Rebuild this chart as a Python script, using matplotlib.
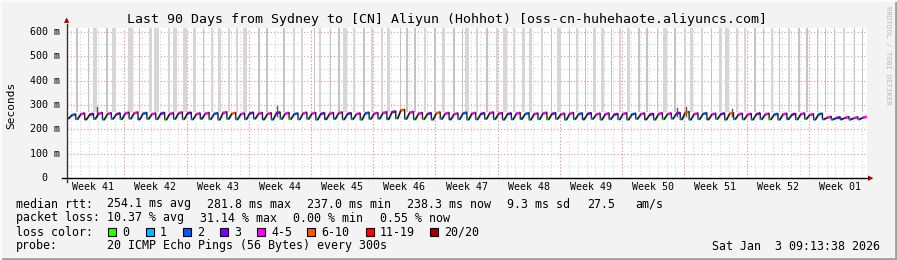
import matplotlib
matplotlib.use('Agg')
import matplotlib.pyplot as plt
from matplotlib.patches import Rectangle
from matplotlib.lines import Line2D

# ---- data ----
title = 'Last 90 Days from Sydney to [CN] Aliyun (Hohhot) [oss-cn-huhehaote.aliyuncs.com]'
y_ticks = [0, 100, 200, 300, 400, 500, 600]
y_tick_labels = ['0  ', '100 m', '200 m', '300 m', '400 m', '500 m', '600 m']
week_labels = ['Week 41', 'Week 42', 'Week 43', 'Week 44', 'Week 45', 'Week 46', 'Week 47',
               'Week 48', 'Week 49', 'Week 50', 'Week 51', 'Week 52', 'Week 01']
first_week_start = 6.45   # day offset of the first Monday line

loss_names = ['0', '1', '2', '3', '4-5', '6-10', '11-19', '20/20']
loss_colors = ['#26ff00', '#00b8ff', '#0059ff', '#7e00ff', '#ff00ff', '#ff5500', '#ff0000', '#a10000']

# median rtt per day (ms): trough and peak of the daily saw tooth
day_low = [245, 242, 241, 243, 240, 243, 242, 244, 241, 243,
           242, 240, 243, 242, 241, 244, 242, 240, 243, 241,
           242, 244, 241, 240, 243, 242, 241, 243, 240, 242,
           243, 241, 242, 240, 243, 244, 242, 245, 243, 241,
           242, 240, 243, 241, 242, 240, 241, 243, 242, 240,
           241, 243, 240, 242, 241, 243, 240, 242, 241, 243,
           240, 242, 241, 240, 243, 241, 240, 242, 244, 241,
           240, 242, 241, 243, 240, 242, 241, 240, 242, 241,
           240, 242, 241, 243, 240, 241, 240, 241, 240, 241]
day_high = [262, 266, 264, 268, 267, 266, 269, 270, 268, 266,
            268, 267, 270, 269, 266, 268, 267, 271, 268, 266,
            269, 268, 267, 270, 268, 266, 269, 268, 267, 268,
            270, 267, 266, 269, 268, 271, 274, 281, 272, 268,
            267, 270, 268, 266, 269, 268, 267, 270, 268, 266,
            268, 267, 266, 269, 267, 265, 268, 266, 267, 265,
            266, 264, 267, 265, 266, 264, 267, 266, 268, 272,
            266, 267, 265, 266, 268, 265, 264, 266, 265, 264,
            265, 264, 266, 263, 265, 252, 250, 251, 250, 252]
# loss class index (into loss_names) at trough and at peak
low_loss = [1, 1, 2, 1, 1, 1, 1, 1, 2, 1,
            1, 0, 1, 1, 1, 2, 1, 1, 1, 1,
            1, 1, 2, 1, 1, 0, 1, 1, 1, 2,
            1, 1, 1, 1, 1, 1, 2, 1, 1, 1,
            0, 1, 1, 2, 1, 1, 1, 1, 1, 1,
            1, 2, 1, 1, 0, 1, 1, 1, 2, 1,
            1, 1, 1, 1, 1, 2, 1, 0, 1, 1,
            1, 1, 2, 1, 1, 1, 1, 1, 1, 0,
            1, 2, 1, 1, 1, 1, 1, 2, 1, 1]
high_loss = [2, 4, 3, 4, 4, 3, 4, 4, 2, 4,
             3, 4, 4, 3, 4, 4, 2, 4, 5, 4,
             3, 4, 4, 3, 4, 2, 4, 4, 3, 4,
             4, 3, 4, 2, 4, 4, 3, 5, 4, 4,
             3, 5, 4, 4, 2, 4, 3, 4, 4, 3,
             4, 2, 4, 4, 3, 4, 4, 2, 3, 4,
             4, 3, 4, 2, 4, 3, 4, 4, 3, 5,
             4, 2, 4, 3, 5, 4, 4, 3, 4, 2,
             4, 3, 4, 4, 2, 4, 3, 4, 4, 4]

# tall smoke (high ping outliers), day offset and width in days
smoke_day = [1.12, 2.47, 3.15, 4.5, 5.3, 7.1, 8.2, 9.35, 10.1, 11.5,
             12.15, 13.3, 14.3, 15.4, 16.3, 17.2, 18.2, 19.1, 20.0, 21.6,
             22.5, 24.4, 25.5, 26.4, 27.8, 28.5, 29.6, 30.6, 31.3, 32.3,
             33.4, 34.3, 35.4, 36.2, 37.5, 38.25, 39.15, 40.3, 41.4, 42.4,
             43.55, 44.45, 45.0, 46.1, 47.25, 48.4, 49.3, 50.3, 51.4, 52.1,
             53.45, 54.55, 55.35, 56.5, 57.4, 58.3, 59.3, 60.2, 61.3, 62.2,
             63.2, 64.35, 65.25, 66.4, 67.3, 68.4, 69.5, 70.3, 71.4, 72.55,
             73.5, 74.25, 75.4, 76.3, 77.4, 78.4, 79.3, 80.2, 81.2, 82.35,
             83.25, 84.4, 85.3, 86.3, 87.4, 88.55, 89.45]
smoke_width = [0.15, 0.1, 0.35, 0.1, 0.45, 0.55, 0.1, 0.35, 0.55, 0.25,
               0.35, 0.45, 0.35, 0.1, 0.25, 0.35, 0.25, 0.25, 0.45, 0.1,
               0.1, 0.15, 0.25, 0.25, 0.1, 0.25, 0.1, 0.1, 0.45, 0.25,
               0.15, 0.25, 0.25, 0.35, 0.1, 0.1, 0.1, 0.25, 0.1, 0.35,
               0.15, 0.1, 0.35, 0.25, 0.1, 0.25, 0.45, 0.25, 0.35, 0.35,
               0.25, 0.1, 0.35, 0.1, 0.25, 0.1, 0.35, 0.35, 0.1, 0.25,
               0.35, 0.1, 0.1, 0.1, 0.45, 0.1, 0.25, 0.35, 0.25, 0.1,
               0.35, 0.35, 0.25, 0.25, 0.1, 0.1, 0.25, 0.1, 0.25, 0.1,
               0.1, 0.1, 0.1, 0.1, 0.25, 0.1, 0.1]
# short dark smoke spikes near the median
spike_day = [3.4, 23.6, 68.6, 69.6, 74.8]
spike_top = [292, 297, 287, 292, 285]

stats_rtt = [('median rtt:', 16), ('254.1 ms avg', 107), ('281.8 ms max', 207),
             ('237.0 ms min', 307), ('238.3 ms now', 407), ('9.3 ms sd', 507),
             ('27.5', 587), ('am/s', 635)]
stats_loss = [('packet loss:', 16), ('10.37 % avg', 107), ('31.14 % max', 200),
              ('0.00 % min', 293), ('0.55 % now', 380)]
probe_text = '20 ICMP Echo Pings (56 Bytes) every 300s'
date_text = 'Sat Jan  3 09:13:38 2026'

# ---- figure ----
W, H = 897, 260
plt.rcParams['font.family'] = 'DejaVu Sans Mono'
fig = plt.figure(figsize=(W / 100, H / 100), dpi=100, facecolor='#f3f3f3')

def fx(x):
    return x / W

def fy(y):
    return 1 - y / H

ax_left, ax_right, ax_top, ax_bottom = 67, 867, 28, 178
ax = fig.add_axes([fx(ax_left), fy(ax_bottom), (ax_right - ax_left) / W, (ax_bottom - ax_top) / H])
ax.set_facecolor('white')
ymax = 600 * (ax_bottom - ax_top) / (ax_bottom - 32)
ax.set_xlim(0, 90)
ax.set_ylim(0, ymax)
for s in ax.spines.values():
    s.set_visible(False)
ax.set_xticks([])
ax.set_yticks([])

# grid
dot = (0, (1, 2))
d = first_week_start % 1
while d < 90:
    ax.axvline(d, color='#d2d2d2', lw=0.8, ls=dot, zorder=1)
    d += 1
for v in range(50, 620, 100):
    ax.axhline(v, color='#d2d2d2', lw=0.8, ls=dot, zorder=1)
for v in y_ticks[1:]:
    ax.axhline(v, color='#f09090', lw=0.8, ls=dot, zorder=1.2)
week_lines = [first_week_start + 7 * k for k in range(12)]
for w in week_lines:
    ax.axvline(w, color='#f09090', lw=0.8, ls=dot, zorder=1.2)

# smoke
for sd, sw in zip(smoke_day, smoke_width):
    c = '#c4c4c4' if sw <= 0.15 else '#d6d6d6'
    ax.bar(sd, ymax + 10 - 272, bottom=272, width=max(sw, 0.12), color=c, lw=0, zorder=2)
for sd, st in zip(spike_day, spike_top):
    ax.plot([sd, sd], [255, st], color='#555555', lw=1, zorder=3)

# median rtt saw tooth coloured by loss
n = len(day_low)
for i in range(n):
    lo, hi = day_low[i], day_high[i]
    ax.plot([i, i + 0.22], [lo, lo + 1], color=loss_colors[low_loss[i]], lw=1.8,
            solid_capstyle='butt', zorder=4)
    ax.plot([i + 0.22, i + 0.55], [lo + 1, hi - 4], color='#222222', lw=1.3, zorder=4)
    ax.plot([i + 0.55, i + 0.98], [hi - 4, hi], color=loss_colors[high_loss[i]], lw=1.9,
            solid_capstyle='butt', zorder=4)
    if i + 1 < n:
        ax.plot([i + 0.98, i + 1], [hi, day_low[i + 1]], color='#222222',
                lw=1.0, zorder=4)

# axes lines with arrows
fig.add_artist(Line2D([fx(62), fx(868)], [fy(178), fy(178)], color='black', lw=1))
fig.add_artist(Line2D([fx(67), fx(67)], [fy(182), fy(24)], color='#333333', lw=1))
fig.text(fx(67), fy(20), '\u25b2', color='#a00000', fontsize=5, ha='center', va='center',
         family='DejaVu Sans')
fig.text(fx(871), fy(178), '\u25b6', color='#a00000', fontsize=5, ha='center', va='center',
         family='DejaVu Sans')

# y tick labels
for v, lab in zip(y_ticks, y_tick_labels):
    y = ax_bottom - v * (ax_bottom - 32) / 600
    fig.text(fx(60), fy(y), lab, fontsize=7.2, ha='right', va='center', color='black')
fig.text(fx(11), fy(105), 'Seconds', fontsize=8, rotation=90, ha='center', va='center')

# week labels
for k, lab in enumerate(week_labels):
    mid = first_week_start - 3.5 + 7 * k
    x = ax_left + mid * (ax_right - ax_left) / 90
    fig.text(fx(x), fy(187), lab, fontsize=7.2, ha='center', va='center')

# title and watermark
fig.text(fx(447), fy(19), title, fontsize=9.5, ha='center', va='center')
fig.text(fx(888), fy(55), 'RRDTOOL / TOBI OETIKER', fontsize=5.4, rotation=270,
         ha='center', va='center', color='#b8b8b8')

# legend
for txt, x in stats_rtt:
    fig.text(fx(x), fy(204), txt, fontsize=8.4, ha='left', va='center')
for txt, x in stats_loss:
    fig.text(fx(x), fy(218), txt, fontsize=8.4, ha='left', va='center')
fig.text(fx(16), fy(232), 'loss color:', fontsize=8.4, ha='left', va='center')
swatch_x = [108, 146, 183, 220, 257, 307, 366, 430]
for name, col, sx in zip(loss_names, loss_colors, swatch_x):
    fig.add_artist(Rectangle((fx(sx), fy(236)), 8 / W, 8 / H, facecolor=col,
                             edgecolor='black', lw=0.8))
    fig.text(fx(sx + 14), fy(232), name, fontsize=8.4, ha='left', va='center')
fig.text(fx(16), fy(246), 'probe:', fontsize=8.4, ha='left', va='center')
fig.text(fx(107), fy(246), probe_text, fontsize=8.4, ha='left', va='center')
fig.text(fx(880), fy(246), date_text, fontsize=8.4, ha='right', va='center')

# frame
fig.add_artist(Line2D([0, 1], [fy(258.5), fy(258.5)], color='#a0a0a0', lw=2))
fig.add_artist(Line2D([fx(895.5), fx(895.5)], [0, 1], color='#a0a0a0', lw=2))
fig.add_artist(Line2D([0, 1], [fy(0.5), fy(0.5)], color='#fbfbfb', lw=1.5))
fig.add_artist(Line2D([fx(0.5), fx(0.5)], [0, 1], color='#fbfbfb', lw=1.5))

fig.savefig('out.png', dpi=100, facecolor=fig.get_facecolor())
